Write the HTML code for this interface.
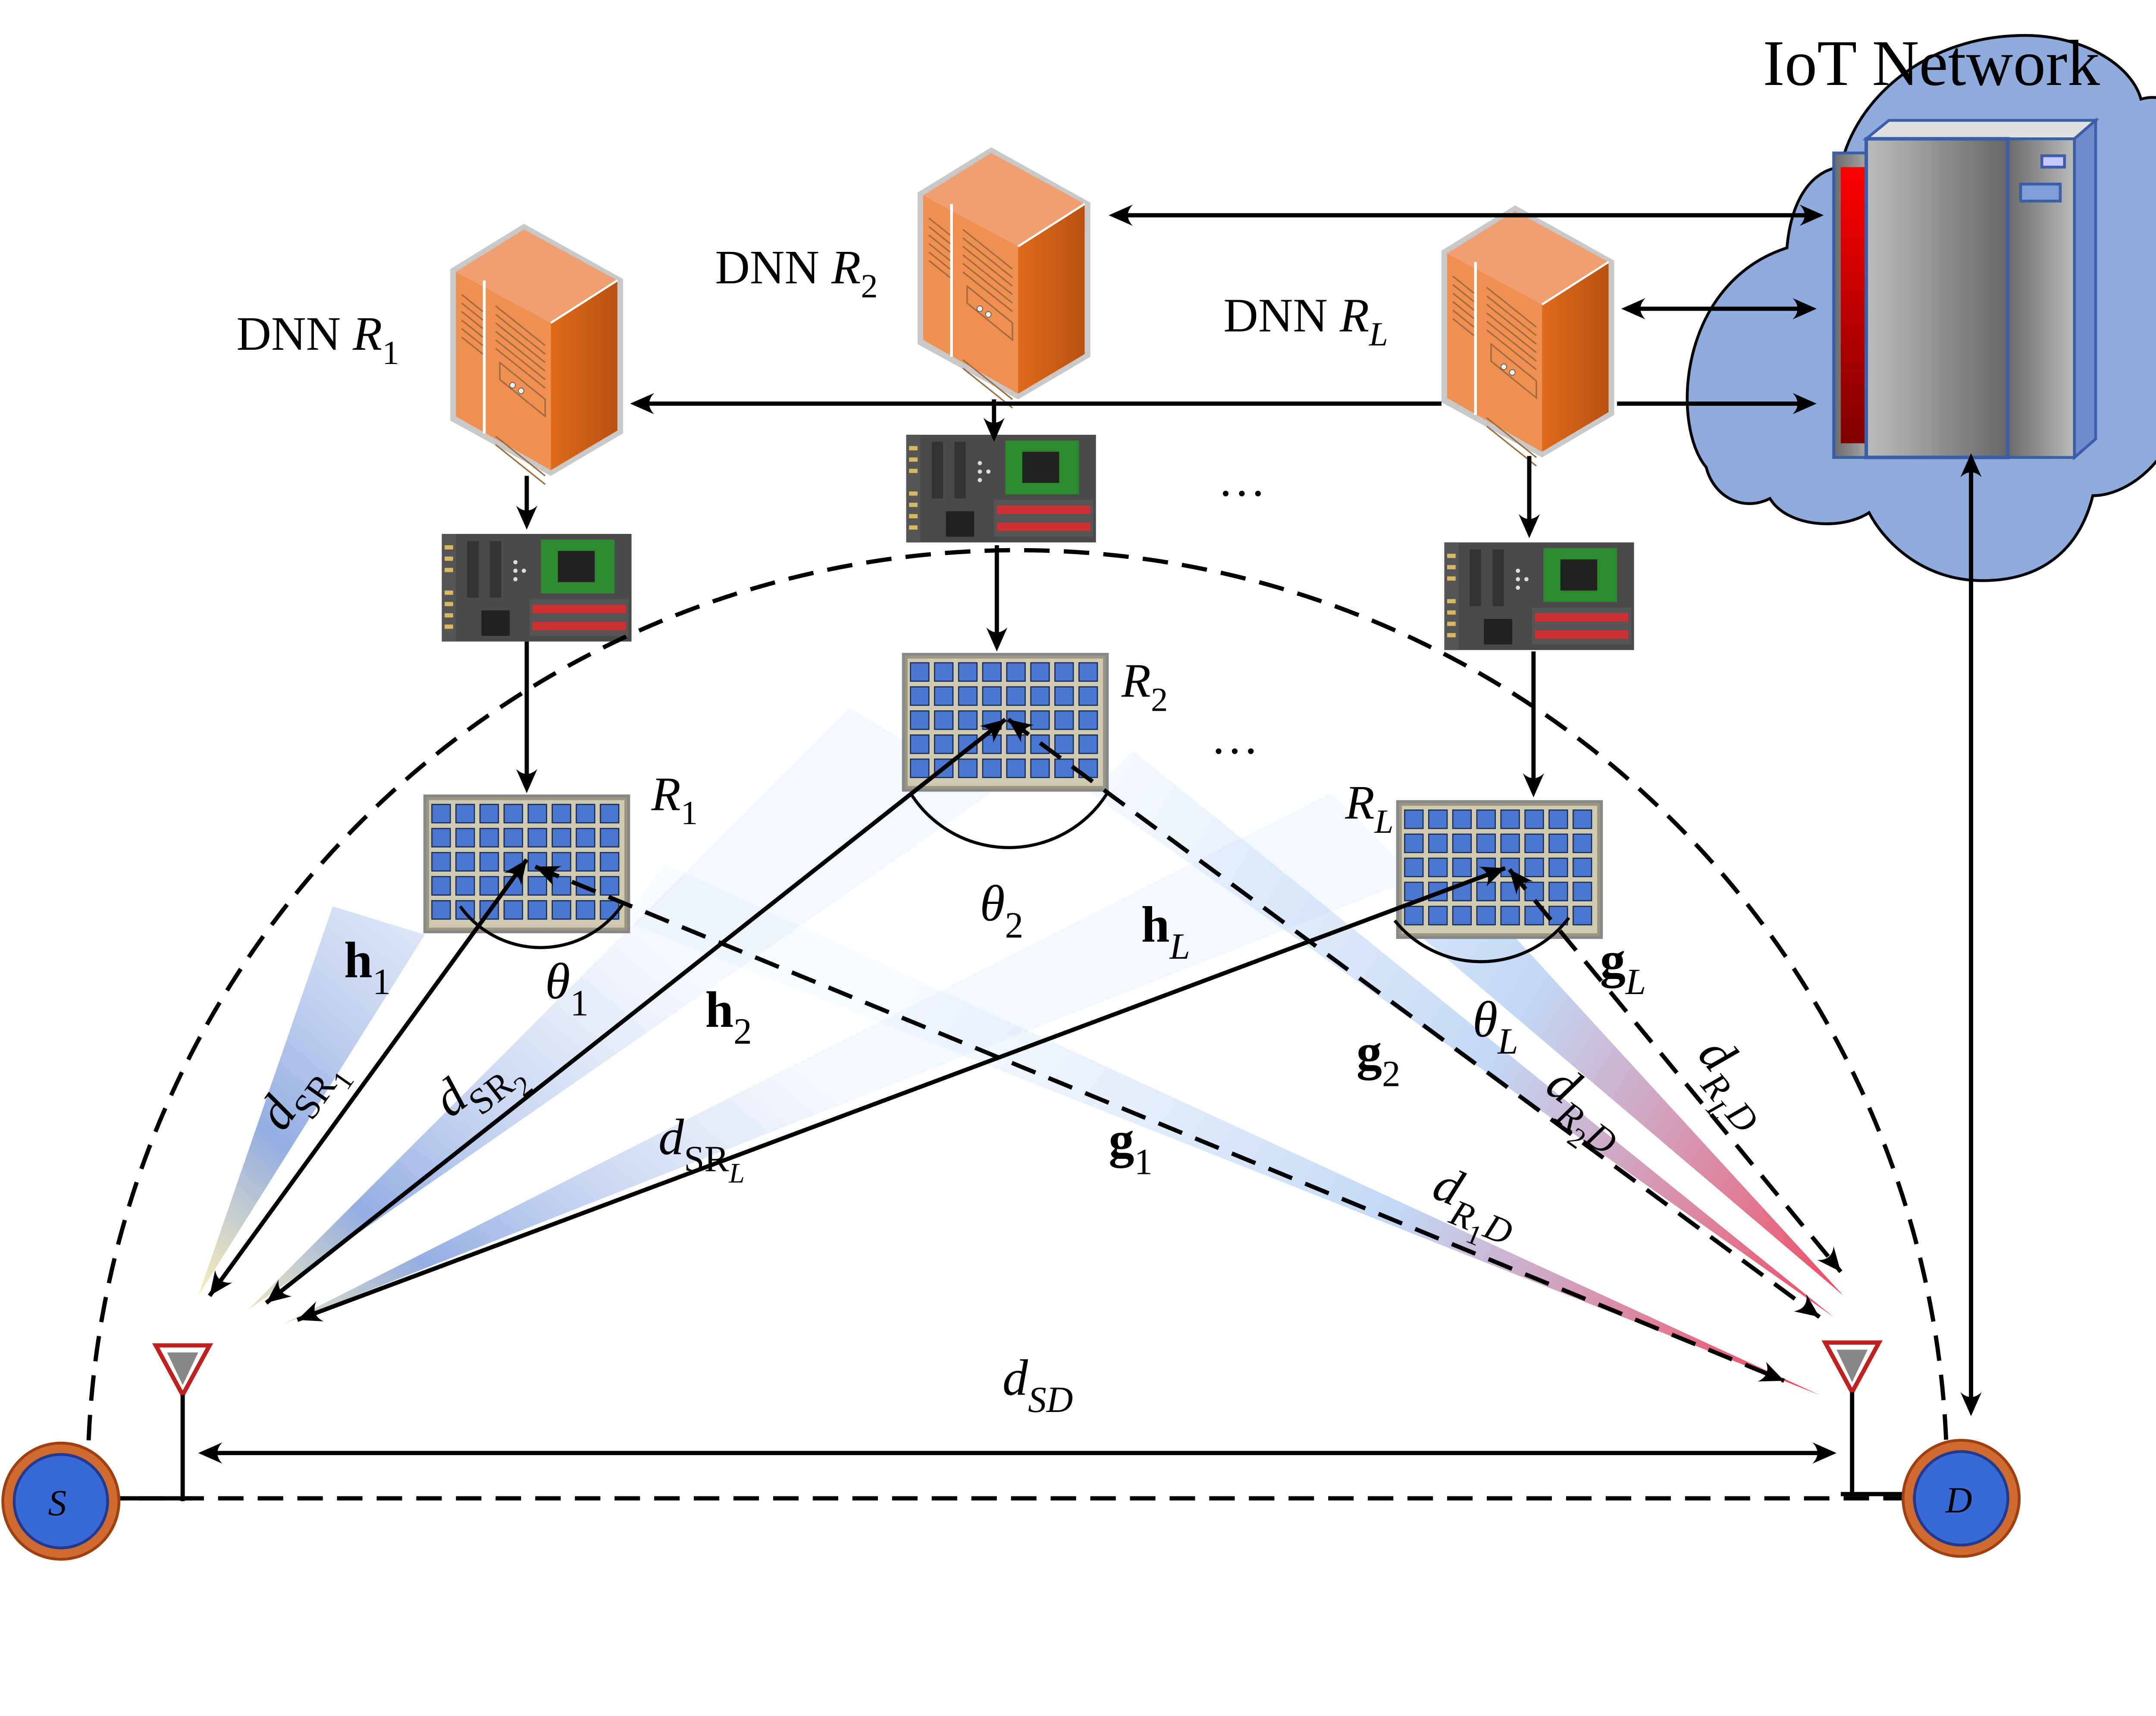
<!DOCTYPE html>
<html><head><meta charset="utf-8"><style>html,body{margin:0;padding:0;background:#fff}svg{display:block}</style></head><body>
<svg xmlns="http://www.w3.org/2000/svg" xmlns:xlink="http://www.w3.org/1999/xlink" width="5149" height="3979" viewBox="0 0 1568 1211.7" font-family="Liberation Serif, serif">
<defs>
<path id="ah" d="M0,0 L-17,-7.5 Q-10,0 -17,7.5 Z" fill="#000"/>
<linearGradient id="srv" x1="0" x2="1"><stop offset="0" stop-color="#bdbdbd"/><stop offset="1" stop-color="#666"/></linearGradient>
<linearGradient id="srv2" x1="0" x2="1"><stop offset="0" stop-color="#6a6a6a"/><stop offset="1" stop-color="#bbb"/></linearGradient>
<linearGradient id="red" x1="0" y1="0" x2="0" y2="1"><stop offset="0" stop-color="#f00"/><stop offset="1" stop-color="#800000"/></linearGradient>
<linearGradient id="orR" x1="0" x2="1"><stop offset="0" stop-color="#e06a1a"/><stop offset="1" stop-color="#b85010"/></linearGradient>
<linearGradient id="bS" gradientUnits="userSpaceOnUse" x1="150" y1="920" x2="400" y2="620"><stop offset="0" stop-color="#f8e8a0" stop-opacity=".9"/><stop offset=".3" stop-color="#6a8fd8" stop-opacity=".85"/><stop offset="1" stop-color="#c8d8f8" stop-opacity=".25"/></linearGradient>
<linearGradient id="bD" gradientUnits="userSpaceOnUse" x1="700" y1="600" x2="1290" y2="960"><stop offset="0" stop-color="#e0ecff" stop-opacity=".3"/><stop offset=".55" stop-color="#a9c8f2" stop-opacity=".85"/><stop offset="1" stop-color="#f2203a"/></linearGradient>
<g id="server">
<polygon points="0,32 52,0 122,39 122,148 71,178 0,139" fill="#c8c8c8"/>
<polygon points="4,34 52,4 118,40 71,70" fill="#f0a070"/>
<polygon points="4,34 71,70 71,174 4,136" fill="#ef9050"/>
<polygon points="71,70 118,40 118,146 71,174" fill="url(#orR)"/>
<line x1="71" y1="70" x2="118" y2="40" stroke="#fff" stroke-width="1.5"/>
<line x1="24" y1="40" x2="24" y2="148" stroke="#fff" stroke-width="2"/>
<g stroke="#a06a40" stroke-width="1"><path d="M8,50 l15,12 M8,56 l15,12 M8,62 l15,12 M8,68 l15,12 M8,74 l15,12 M8,80 l15,12 M32,58 l35,28 M32,64 l35,28 M32,70 l35,28 M32,76 l35,28 M32,82 l35,28 M32,88 l35,28 M32,150 l35,28 M32,156 l35,28"/></g>
<polygon points="35,110 67,136 67,124 35,98" fill="none" stroke="#a06a40"/>
<circle cx="44" cy="114" r="2" fill="#eee" stroke="#555" stroke-width=".5"/><circle cx="50" cy="118" r="2" fill="#eee" stroke="#555" stroke-width=".5"/>
</g>
<g id="board">
<rect x="0" y="0" width="134" height="76" fill="#4a4a4a"/>
<rect x="0" y="0" width="10" height="76" fill="#555"/>
<g fill="#d8b860"><rect x="2" y="8" width="6" height="3"/><rect x="2" y="16" width="6" height="3"/><rect x="2" y="24" width="6" height="3"/><rect x="2" y="40" width="6" height="3"/><rect x="2" y="48" width="6" height="3"/><rect x="2" y="56" width="6" height="3"/><rect x="2" y="64" width="6" height="3"/></g>
<rect x="18" y="5" width="8" height="40" fill="#333"/><rect x="34" y="5" width="8" height="40" fill="#333"/>
<rect x="70" y="4" width="52" height="38" fill="#2e8a2e"/><rect x="82" y="12" width="26" height="22" fill="#222"/>
<rect x="62" y="46" width="70" height="26" fill="#555"/>
<rect x="64" y="50" width="66" height="6" fill="#d03030"/><rect x="64" y="62" width="66" height="6" fill="#d03030"/>
<rect x="28" y="54" width="20" height="18" fill="#222"/>
<g fill="#ddd"><circle cx="52" cy="20" r="1.5"/><circle cx="52" cy="26" r="1.5"/><circle cx="52" cy="32" r="1.5"/><circle cx="58" cy="26" r="1.5"/></g>
</g>
<g id="row" fill="#4a78d0" stroke="#1a2a50" stroke-width=".8">
<rect x="5" y="0" width="13" height="13"/><rect x="22" y="0" width="13" height="13"/><rect x="39" y="0" width="13" height="13"/><rect x="56" y="0" width="13" height="13"/><rect x="73" y="0" width="13" height="13"/><rect x="90" y="0" width="13" height="13"/><rect x="107" y="0" width="13" height="13"/><rect x="124" y="0" width="13" height="13"/>
</g>
<g id="panel">
<rect x="0" y="0" width="144" height="96" fill="#9a9680" stroke="#888" stroke-width="2"/>
<rect x="3" y="3" width="138" height="90" fill="#cfcab0"/>
<use xlink:href="#row" href="#row" y="6"/><use xlink:href="#row" href="#row" y="23"/><use xlink:href="#row" href="#row" y="40"/><use xlink:href="#row" href="#row" y="57"/><use xlink:href="#row" href="#row" y="74"/>
</g>
</defs>

<!-- beams -->
<polygon points="140,915 235,640 300,660" fill="url(#bS)" opacity=".85"/>
<polygon points="175,925 600,500 700,560" fill="url(#bS)" opacity=".85"/>
<polygon points="200,935 940,560 1000,620" fill="url(#bS)" opacity=".85"/>
<polygon points="440,650 470,610 1285,985" fill="url(#bD)" opacity=".85"/>
<polygon points="770,560 800,530 1295,930" fill="url(#bD)" opacity=".85"/>
<polygon points="990,650 1050,640 1302,915" fill="url(#bD)" opacity=".85"/>

<!-- cloud -->
<path d="M1205,330 C1180,300 1185,200 1262,175 C1265,140 1280,120 1300,118 C1310,70 1360,25 1430,25 C1470,25 1505,45 1512,70 C1540,62 1562,95 1562,130 C1575,170 1570,270 1540,292 C1530,330 1500,350 1478,350 C1468,390 1440,410 1400,410 C1360,410 1332,385 1320,362 C1300,375 1262,372 1250,352 C1230,362 1210,350 1205,330 Z" fill="#8faadc" stroke="#000" stroke-width="2"/>
<rect x="1295" y="108" width="32" height="215" fill="url(#srv2)" stroke="#3a5fa8" stroke-width="2"/>
<rect x="1300" y="118" width="18" height="195" fill="url(#red)"/>
<polygon points="1318,98 1334,85 1480,85 1465,98" fill="#e0e0e0" stroke="#3a5fa8" stroke-width="2"/>
<polygon points="1465,98 1480,85 1480,310 1465,323" fill="#6f8ccc" stroke="#3a5fa8" stroke-width="2"/>
<rect x="1318" y="98" width="100" height="225" fill="url(#srv)" stroke="#3a5fa8" stroke-width="2.5"/>
<rect x="1418" y="98" width="47" height="225" fill="url(#srv2)" stroke="#3a5fa8" stroke-width="2"/>
<rect x="1442" y="110" width="16" height="8" fill="#c8c8ff" stroke="#3a5fa8" stroke-width="2"/>
<rect x="1427" y="130" width="28" height="12" fill="#7f9fd8" stroke="#3a5fa8" stroke-width="2"/>
<text x="1245" y="60" font-size="46">IoT Network</text>

<use xlink:href="#server" href="#server" x="318" y="158"/>
<use xlink:href="#server" href="#server" x="648" y="104"/>
<use xlink:href="#server" href="#server" x="1018" y="145"/>
<use xlink:href="#board" href="#board" x="312" y="377"/>
<use xlink:href="#board" href="#board" x="640" y="307"/>
<use xlink:href="#board" href="#board" x="1020" y="383"/>
<use xlink:href="#panel" href="#panel" x="300" y="562"/>
<use xlink:href="#panel" href="#panel" x="638" y="462"/>
<use xlink:href="#panel" href="#panel" x="987" y="566"/>

<text x="167" y="247" font-size="34">DNN <tspan font-style="italic">R</tspan><tspan font-size="24" dy="10">1</tspan></text>
<text x="505" y="200" font-size="34">DNN <tspan font-style="italic">R</tspan><tspan font-size="24" dy="10">2</tspan></text>
<text x="864" y="234" font-size="34">DNN <tspan font-style="italic">R</tspan><tspan font-size="24" font-style="italic" dy="10">L</tspan></text>
<text x="860" y="350" font-size="34">…</text>
<text x="855" y="532" font-size="34">…</text>
<text x="460" y="572" font-size="34" font-style="italic">R<tspan font-size="24" font-style="normal" dy="10">1</tspan></text>
<text x="792" y="492" font-size="34" font-style="italic">R<tspan font-size="24" font-style="normal" dy="10">2</tspan></text>
<text x="950" y="578" font-size="34" font-style="italic">R<tspan font-size="24" dy="10">L</tspan></text>

<g stroke="#000" stroke-width="3" fill="none">
<line x1="372" y1="336" x2="372" y2="370"/>
<line x1="372" y1="453" x2="372" y2="556"/>
<line x1="702" y1="282" x2="702" y2="308"/>
<line x1="704" y1="385" x2="704" y2="456"/>
<line x1="1080" y1="322" x2="1080" y2="376"/>
<line x1="1083" y1="460" x2="1083" y2="559"/>
<line x1="1018" y1="285" x2="449" y2="285"/>
<line x1="1142" y1="285" x2="1279" y2="285"/>
<line x1="787" y1="152" x2="1284" y2="152"/>
<line x1="1149" y1="218" x2="1279" y2="218"/>
<line x1="1392" y1="324" x2="1392" y2="996"/>
<line x1="148" y1="915" x2="372" y2="607"/>
<line x1="188" y1="920" x2="710" y2="508"/>
<line x1="210" y1="932" x2="1063" y2="613"/>
<line x1="144" y1="1026" x2="1293" y2="1026"/>
</g>
<g stroke="#000" stroke-width="3" fill="none" stroke-dasharray="18,10">
<line x1="378" y1="612" x2="1260" y2="975"/>
<line x1="712" y1="508" x2="1285" y2="930"/>
<line x1="1066" y1="614" x2="1300" y2="898"/>
<path d="M62,1045 A656,656 0 0 1 1375,1045"/>
<line x1="70" y1="1058" x2="1380" y2="1058"/>
</g>
<!-- arrowheads -->
<g>
<use href="#ah" xlink:href="#ah" transform="translate(372,374) rotate(90)"/>
<use href="#ah" xlink:href="#ah" transform="translate(372,560) rotate(90)"/>
<use href="#ah" xlink:href="#ah" transform="translate(702,312) rotate(90)"/>
<use href="#ah" xlink:href="#ah" transform="translate(704,460) rotate(90)"/>
<use href="#ah" xlink:href="#ah" transform="translate(1080,380) rotate(90)"/>
<use href="#ah" xlink:href="#ah" transform="translate(1083,563) rotate(90)"/>
<use href="#ah" xlink:href="#ah" transform="translate(445,285) rotate(180)"/>
<use href="#ah" xlink:href="#ah" transform="translate(1283,285)"/>
<use href="#ah" xlink:href="#ah" transform="translate(783,152) rotate(180)"/>
<use href="#ah" xlink:href="#ah" transform="translate(1288,152)"/>
<use href="#ah" xlink:href="#ah" transform="translate(1145,218) rotate(180)"/>
<use href="#ah" xlink:href="#ah" transform="translate(1283,218)"/>
<use href="#ah" xlink:href="#ah" transform="translate(1392,320) rotate(-90)"/>
<use href="#ah" xlink:href="#ah" transform="translate(1392,1000) rotate(90)"/>
<use href="#ah" xlink:href="#ah" transform="translate(140,1026) rotate(180)"/>
<use href="#ah" xlink:href="#ah" transform="translate(1297,1026)"/>
<use href="#ah" xlink:href="#ah" transform="translate(372,607) rotate(-54)"/>
<use href="#ah" xlink:href="#ah" transform="translate(148,915) rotate(126)"/>
<use href="#ah" xlink:href="#ah" transform="translate(710,508) rotate(-38.3)"/>
<use href="#ah" xlink:href="#ah" transform="translate(188,920) rotate(141.7)"/>
<use href="#ah" xlink:href="#ah" transform="translate(1063,613) rotate(-20.5)"/>
<use href="#ah" xlink:href="#ah" transform="translate(210,932) rotate(159.5)"/>
<use href="#ah" xlink:href="#ah" transform="translate(1260,975) rotate(22.4)"/>
<use href="#ah" xlink:href="#ah" transform="translate(378,612) rotate(-157.6)"/>
<use href="#ah" xlink:href="#ah" transform="translate(1285,930) rotate(36.4)"/>
<use href="#ah" xlink:href="#ah" transform="translate(712,508) rotate(-143.6)"/>
<use href="#ah" xlink:href="#ah" transform="translate(1300,898) rotate(50.5)"/>
<use href="#ah" xlink:href="#ah" transform="translate(1066,614) rotate(-129.5)"/>
</g>
<g stroke="#000" stroke-width="2.2" fill="none">
<path d="M325,640 A70,70 0 0 0 440,638"/>
<path d="M643,560 A82,82 0 0 0 782,560"/>
<path d="M985,650 A78,78 0 0 0 1108,648"/>
</g>
<polygon points="110,950 148,950 129,985" fill="#fff" stroke="#c02020" stroke-width="3"/>
<polygon points="118,955 140,955 129,978" fill="#888"/>
<line x1="129" y1="985" x2="129" y2="1060" stroke="#000" stroke-width="3"/>
<line x1="84" y1="1058" x2="136" y2="1058" stroke="#000" stroke-width="3"/>
<polygon points="1289,948 1327,948 1308,983" fill="#fff" stroke="#c02020" stroke-width="3"/>
<polygon points="1297,953 1319,953 1308,976" fill="#888"/>
<line x1="1308" y1="983" x2="1308" y2="1056" stroke="#000" stroke-width="3"/>
<line x1="1300" y1="1055" x2="1350" y2="1055" stroke="#000" stroke-width="3"/>
<circle cx="43" cy="1060" r="41" fill="#d06a30" stroke="#a04010" stroke-width="2"/>
<circle cx="43" cy="1060" r="33" fill="#3a6ad8" stroke="#203a90" stroke-width="2"/>
<text x="34" y="1070" font-size="26" font-style="italic">S</text>
<circle cx="1385" cy="1058" r="41" fill="#d06a30" stroke="#a04010" stroke-width="2"/>
<circle cx="1385" cy="1058" r="33" fill="#3a6ad8" stroke="#203a90" stroke-width="2"/>
<text x="1374" y="1068" font-size="26" font-style="italic">D</text>

<g font-size="36">
<text x="243" y="690" font-weight="bold">h<tspan font-weight="normal" font-size="26" dy="12">1</tspan></text>
<text x="498" y="725" font-weight="bold">h<tspan font-weight="normal" font-size="26" dy="12">2</tspan></text>
<text x="806" y="665" font-weight="bold">h<tspan font-weight="normal" font-style="italic" font-size="26" dy="12">L</tspan></text>
<text x="783" y="817" font-weight="bold">g<tspan font-weight="normal" font-size="26" dy="12">1</tspan></text>
<text x="958" y="755" font-weight="bold">g<tspan font-weight="normal" font-size="26" dy="12">2</tspan></text>
<text x="1130" y="690" font-weight="bold">g<tspan font-weight="normal" font-style="italic" font-size="26" dy="12">L</tspan></text>
<text x="385" y="705" font-style="italic">θ<tspan font-style="normal" font-size="26" dy="12">1</tspan></text>
<text x="692" y="650" font-style="italic">θ<tspan font-style="normal" font-size="26" dy="12">2</tspan></text>
<text x="1040" y="732" font-style="italic">θ<tspan font-size="26" dy="12">L</tspan></text>
<text x="708" y="985" font-style="italic">d<tspan font-size="26" dy="12">SD</tspan></text>
<text x="465" y="815" font-style="italic">d<tspan font-style="normal" font-size="26" dy="12">SR</tspan><tspan font-size="20" dy="8">L</tspan></text>
<text transform="translate(200,800) rotate(-55)" font-style="italic">d<tspan font-style="normal" font-size="26" dy="12">SR</tspan><tspan font-style="normal" font-size="20" dy="8">1</tspan></text>
<text transform="translate(318,790) rotate(-38)" font-style="italic">d<tspan font-style="normal" font-size="26" dy="12">SR</tspan><tspan font-style="normal" font-size="20" dy="8">2</tspan></text>
<text transform="translate(1010,845) rotate(22)" font-style="italic">d<tspan font-size="26" dy="12">R</tspan><tspan font-style="normal" font-size="20" dy="8">1</tspan><tspan font-size="26" dy="-8">D</tspan></text>
<text transform="translate(1090,770) rotate(36)" font-style="italic">d<tspan font-size="26" dy="12">R</tspan><tspan font-style="normal" font-size="20" dy="8">2</tspan><tspan font-size="26" dy="-8">D</tspan></text>
<text transform="translate(1198,745) rotate(50)" font-style="italic">d<tspan font-size="26" dy="12">R</tspan><tspan font-size="20" dy="8">L</tspan><tspan font-size="26" dy="-8">D</tspan></text>
</g>
</svg>
</body></html>
